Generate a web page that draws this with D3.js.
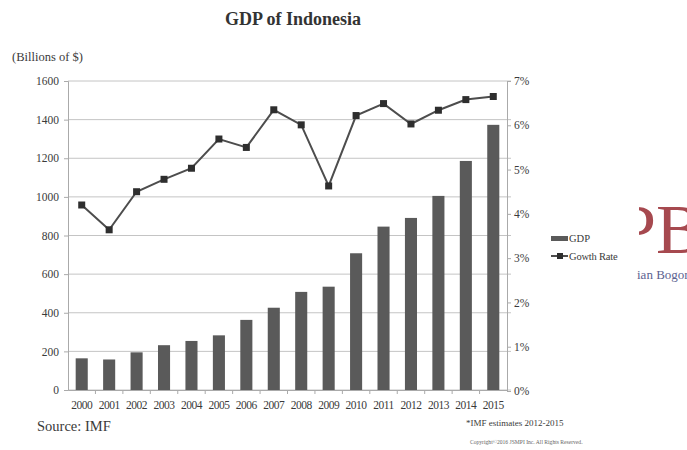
<!DOCTYPE html>
<html><head><meta charset="utf-8">
<script src="https://cdn.jsdelivr.net/npm/d3@7"></script>
<style>
body{margin:0;background:#fff;}
svg{font-family:"Liberation Serif","DejaVu Serif",serif;}
</style></head>
<body><svg id="c" width="687" height="450"></svg>
<script>
const years = ["2000","2001","2002","2003","2004","2005","2006","2007","2008","2009","2010","2011","2012","2013","2014","2015"];
const gdp = [164,158,195,232,254,283,363,426,508,535,708,846,891,1005,1186,1373];
const growth = [4.2,3.64,4.5,4.78,5.03,5.69,5.5,6.35,6.01,4.63,6.22,6.49,6.03,6.34,6.58,6.65];
const leftTicks = [0,200,400,600,800,1000,1200,1400,1600];
const rightTicks = [0,1,2,3,4,5,6,7];

const svg = d3.select("#c");
const m = {l:68, r:507, t:81, b:390};
const x = d3.scaleBand().domain(years).range([m.l, m.r]).paddingInner(0.56).paddingOuter(0.28);
const y = d3.scaleLinear().domain([0,1600]).range([m.b, m.t]);
const y2 = d3.scaleLinear().domain([0,7]).range([m.b+1, m.t]);
const txt = "#3a3a3a";

// gridlines
svg.append("g").selectAll("line").data(leftTicks).join("line")
  .attr("x1", m.l).attr("x2", m.r+4).attr("y1", d=>y(d)).attr("y2", d=>y(d))
  .attr("stroke", "#c4c4c4").attr("stroke-width", 1);

// left axis
const gl = svg.append("g").attr("transform", `translate(${m.l},0)`)
  .call(d3.axisLeft(y).tickValues(leftTicks).tickFormat(d3.format("d")).tickSize(4).tickPadding(5));
gl.selectAll("text").attr("font-size", 11.5).attr("fill", txt).attr("font-family","Liberation Serif");
gl.selectAll("line, path").attr("stroke", "#aaa");

// right axis
const gr = svg.append("g").attr("transform", `translate(${m.r},0)`)
  .call(d3.axisRight(y2).tickValues(rightTicks).tickFormat(d=>d+"%").tickSize(4).tickPadding(3));
gr.selectAll("text").attr("font-size", 11.5).attr("fill", txt).attr("font-family","Liberation Serif");
gr.selectAll("line, path").attr("stroke", "#aaa");

// bottom axis
const gb = svg.append("g").attr("transform", `translate(0,${m.b})`)
  .call(d3.axisBottom(x).tickSize(0).tickPadding(11));
gb.select("path").attr("stroke", "#aaa");
gb.selectAll("text").attr("font-size", 11.5).attr("fill", txt).attr("font-family","Liberation Serif").attr("letter-spacing", "-0.5");
// category separators
svg.append("g").selectAll("line").data(years.slice(1)).join("line")
  .attr("x1", d=>x(d)-x.step()*x.paddingInner()/2).attr("x2", d=>x(d)-x.step()*x.paddingInner()/2)
  .attr("y1", m.b).attr("y2", m.b+4).attr("stroke", "#aaa");

// bars
svg.append("g").selectAll("rect").data(years).join("rect")
  .attr("x", d=>x(d)).attr("width", x.bandwidth())
  .attr("y", (d,i)=>y(gdp[i])).attr("height", (d,i)=>m.b - y(gdp[i]))
  .attr("fill", "#5a5a5a");

// growth line
const cx = d=>x(d)+x.bandwidth()/2;
svg.append("path").datum(years)
  .attr("d", d3.line().x(cx).y((d,i)=>y2(growth[i])))
  .attr("fill","none").attr("stroke","#4d4d4d").attr("stroke-width",2);
svg.append("g").selectAll("rect").data(years).join("rect")
  .attr("x", d=>cx(d)-3.5).attr("y",(d,i)=>y2(growth[i])-3.5)
  .attr("width",7).attr("height",7).attr("fill","#2e2e2e");

// title
svg.append("text").attr("x", 293).attr("y", 25).attr("text-anchor","middle")
  .attr("font-size", 18).attr("font-weight","bold").attr("fill","#333").text("GDP of Indonesia");
svg.append("text").attr("x", 12).attr("y", 61).attr("font-size", 12.5).attr("fill", txt).text("(Billions of $)");

// legend
svg.append("rect").attr("x",551).attr("y",236).attr("width",17).attr("height",5).attr("fill","#5a5a5a");
svg.append("text").attr("x",569).attr("y",242).attr("font-size",10.5).attr("fill",txt).text("GDP");
svg.append("line").attr("x1",551).attr("x2",568).attr("y1",256).attr("y2",256).attr("stroke","#4d4d4d").attr("stroke-width",2);
svg.append("rect").attr("x",557).attr("y",253).attr("width",6).attr("height",6).attr("fill","#2e2e2e");
svg.append("text").attr("x",569).attr("y",259.5).attr("font-size",10.5).attr("fill",txt).attr("letter-spacing","-0.2").text("Gowth Rate");

// watermark
const clip = svg.append("defs").append("clipPath").attr("id","wm");
clip.append("rect").attr("x",639).attr("y",180).attr("width",17).attr("height",80);
svg.append("text").attr("clip-path","url(#wm)").attr("x",617).attr("y",253).attr("font-size",70)
  .attr("fill","#a6494f").text("P");
svg.append("text").attr("x",656).attr("y",253).attr("font-size",70)
  .attr("fill","#a6494f").text("B");
svg.append("text").attr("x",637).attr("y",279).attr("font-size",13)
  .attr("fill","#5c6290").text("ian Bogor");

// footer
svg.append("text").attr("x",37).attr("y",431).attr("font-size",14.5).attr("fill",txt).text("Source: IMF");
svg.append("text").attr("x",466).attr("y",426).attr("font-size",9).attr("fill",txt).text("*IMF estimates 2012-2015");
svg.append("text").attr("x",470).attr("y",444).attr("font-size",5.6).attr("fill","#666").text("Copyright©2016 JSMPI Inc.   All Rights Reserved.");
</script></body></html>
